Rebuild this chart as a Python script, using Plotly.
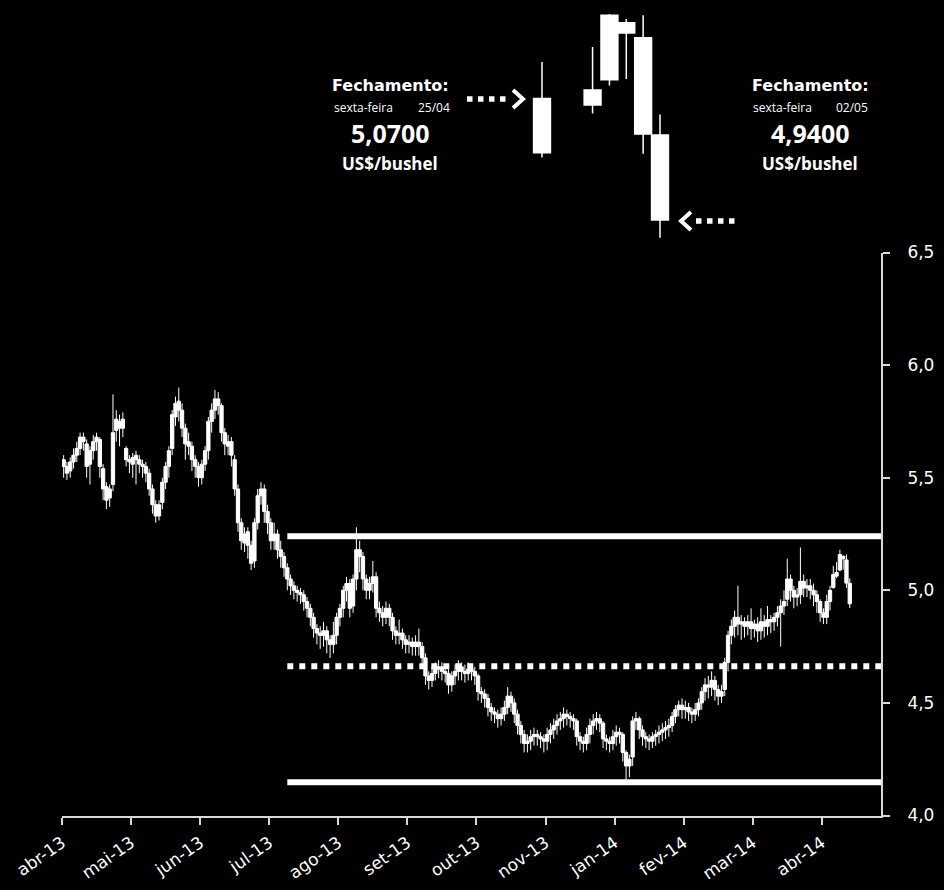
import plotly.graph_objects as go

W, H = 944, 890

# ---------------- data ----------------
month_labels = ["abr-13", "mai-13", "jun-13", "jul-13", "ago-13", "set-13",
                "out-13", "nov-13", "jan-14", "fev-14", "mar-14", "abr-14"]
label_every = 21          # sessions between month labels
axis_slots = 249          # category slots on the x axis

opens = [
    5.58, 5.55, 5.53, 5.57, 5.60, 5.63, 5.68, 5.65, 5.56, 5.62,
    5.66, 5.67, 5.54, 5.46, 5.41, 5.47, 5.71, 5.75, 5.72, 5.63,
    5.58, 5.56, 5.60, 5.58, 5.56, 5.55, 5.52, 5.45, 5.38, 5.33,
    5.39, 5.48, 5.55, 5.63, 5.77, 5.84, 5.80, 5.72, 5.66, 5.64,
    5.58, 5.55, 5.50, 5.56, 5.62, 5.75, 5.80, 5.85, 5.82, 5.70,
    5.64, 5.66, 5.58, 5.45, 5.30, 5.21, 5.26, 5.20, 5.13, 5.30,
    5.42, 5.45, 5.35, 5.30, 5.22, 5.25, 5.18, 5.15, 5.10, 5.05,
    5.02, 5.00, 4.99, 4.98, 4.95, 4.92, 4.88, 4.83, 4.81, 4.80,
    4.82, 4.78, 4.76, 4.80, 4.88, 4.92, 5.00, 5.03, 4.93, 5.05,
    5.18, 5.15, 5.05, 5.00, 5.03, 5.06, 4.92, 4.90, 4.88, 4.92,
    4.88, 4.82, 4.80, 4.81, 4.78, 4.76, 4.77, 4.75, 4.77, 4.75,
    4.70, 4.62, 4.60, 4.63, 4.65, 4.66, 4.64, 4.63, 4.58, 4.62,
    4.64, 4.66, 4.64, 4.63, 4.65, 4.64, 4.62, 4.55, 4.54, 4.52,
    4.48, 4.46, 4.45, 4.43, 4.45, 4.48, 4.53, 4.50, 4.45, 4.40,
    4.36, 4.32, 4.33, 4.35, 4.36, 4.35, 4.34, 4.33, 4.36, 4.38,
    4.40, 4.42, 4.43, 4.45, 4.44, 4.43, 4.42, 4.35, 4.33, 4.32,
    4.36, 4.40, 4.42, 4.43, 4.41, 4.34, 4.33, 4.32, 4.35, 4.37,
    4.36, 4.28, 4.22, 4.26, 4.42, 4.43, 4.38, 4.35, 4.34, 4.33,
    4.35, 4.36, 4.37, 4.38, 4.39, 4.40, 4.44, 4.47, 4.49, 4.47,
    4.48, 4.46, 4.45, 4.47, 4.50, 4.55, 4.58, 4.57, 4.60, 4.56,
    4.53, 4.56, 4.68, 4.80, 4.84, 4.88, 4.85, 4.86, 4.84, 4.86,
    4.83, 4.85, 4.82, 4.86, 4.84, 4.87, 4.86, 4.88, 4.90, 4.93,
    4.96, 5.05, 5.00, 4.97, 4.98, 5.04, 5.01, 5.02, 5.00, 4.98,
    4.95, 4.90, 4.88, 4.95, 5.012, 5.063, 5.090, 5.151, 5.135, 5.031,
]
highs = [
    5.60, 5.57, 5.59, 5.63, 5.66, 5.70, 5.70, 5.67, 5.64, 5.69,
    5.70, 5.68, 5.56, 5.48, 5.47, 5.87, 5.80, 5.78, 5.79, 5.64,
    5.60, 5.61, 5.62, 5.60, 5.58, 5.57, 5.54, 5.47, 5.40, 5.40,
    5.50, 5.57, 5.64, 5.80, 5.86, 5.90, 5.83, 5.74, 5.70, 5.66,
    5.60, 5.57, 5.58, 5.64, 5.77, 5.83, 5.89, 5.88, 5.83, 5.72,
    5.69, 5.68, 5.60, 5.47, 5.32, 5.28, 5.28, 5.22, 5.32, 5.45,
    5.48, 5.47, 5.38, 5.32, 5.30, 5.27, 5.22, 5.17, 5.12, 5.07,
    5.04, 5.02, 5.01, 5.00, 4.97, 4.94, 4.90, 4.85, 4.84, 4.86,
    4.84, 4.80, 4.86, 4.90, 4.94, 5.02, 5.06, 5.05, 5.07, 5.28,
    5.22, 5.17, 5.07, 5.06, 5.13, 5.08, 4.95, 4.93, 4.95, 4.94,
    4.90, 4.84, 4.87, 4.83, 4.80, 4.80, 4.79, 4.80, 4.83, 4.77,
    4.72, 4.64, 4.66, 4.68, 4.69, 4.68, 4.67, 4.65, 4.64, 4.67,
    4.69, 4.68, 4.67, 4.68, 4.67, 4.66, 4.63, 4.57, 4.56, 4.54,
    4.50, 4.48, 4.47, 4.48, 4.51, 4.57, 4.55, 4.52, 4.47, 4.42,
    4.38, 4.36, 4.38, 4.39, 4.38, 4.37, 4.36, 4.39, 4.41, 4.43,
    4.45, 4.46, 4.48, 4.47, 4.46, 4.45, 4.43, 4.37, 4.35, 4.39,
    4.43, 4.45, 4.46, 4.45, 4.42, 4.36, 4.35, 4.38, 4.40, 4.39,
    4.37, 4.29, 4.27, 4.44, 4.46, 4.44, 4.40, 4.37, 4.36, 4.37,
    4.38, 4.40, 4.41, 4.42, 4.43, 4.46, 4.49, 4.51, 4.52, 4.51,
    4.50, 4.48, 4.50, 4.52, 4.57, 4.61, 4.62, 4.64, 4.62, 4.58,
    4.58, 4.70, 4.82, 4.87, 4.91, 5.02, 4.89, 4.88, 4.89, 4.92,
    4.87, 4.88, 4.92, 4.89, 4.93, 4.89, 4.90, 4.93, 4.96, 5.00,
    5.14, 5.07, 5.02, 5.01, 5.19, 5.07, 5.05, 5.05, 5.03, 5.00,
    4.96, 4.92, 4.98, 5.02, 5.109, 5.125, 5.180, 5.155, 5.159, 5.053,
]
lows = [
    5.50, 5.49, 5.50, 5.54, 5.57, 5.60, 5.62, 5.50, 5.47, 5.58,
    5.62, 5.50, 5.40, 5.36, 5.37, 5.44, 5.66, 5.64, 5.68, 5.55,
    5.52, 5.50, 5.47, 5.52, 5.50, 5.48, 5.42, 5.34, 5.30, 5.31,
    5.36, 5.45, 5.50, 5.60, 5.73, 5.75, 5.68, 5.58, 5.60, 5.53,
    5.50, 5.46, 5.47, 5.53, 5.58, 5.70, 5.76, 5.78, 5.66, 5.60,
    5.60, 5.55, 5.42, 5.26, 5.18, 5.17, 5.14, 5.09, 5.10, 5.27,
    5.38, 5.30, 5.25, 5.18, 5.18, 5.14, 5.10, 5.06, 5.00, 4.98,
    4.96, 4.95, 4.94, 4.91, 4.88, 4.84, 4.79, 4.76, 4.74, 4.75,
    4.72, 4.70, 4.72, 4.76, 4.84, 4.88, 4.95, 4.88, 4.90, 5.00,
    5.08, 5.00, 4.96, 4.96, 4.99, 4.88, 4.86, 4.84, 4.85, 4.84,
    4.78, 4.76, 4.76, 4.74, 4.72, 4.72, 4.71, 4.71, 4.71, 4.66,
    4.58, 4.56, 4.57, 4.60, 4.61, 4.60, 4.59, 4.54, 4.55, 4.58,
    4.60, 4.60, 4.59, 4.60, 4.60, 4.58, 4.51, 4.50, 4.48, 4.44,
    4.42, 4.41, 4.39, 4.40, 4.42, 4.45, 4.46, 4.41, 4.36, 4.32,
    4.28, 4.28, 4.29, 4.31, 4.31, 4.30, 4.28, 4.29, 4.32, 4.34,
    4.36, 4.38, 4.39, 4.40, 4.39, 4.38, 4.31, 4.29, 4.28, 4.29,
    4.32, 4.36, 4.38, 4.37, 4.30, 4.29, 4.28, 4.29, 4.31, 4.32,
    4.24, 4.16, 4.17, 4.22, 4.38, 4.34, 4.31, 4.30, 4.29, 4.30,
    4.31, 4.32, 4.33, 4.34, 4.35, 4.37, 4.41, 4.44, 4.43, 4.43,
    4.42, 4.41, 4.42, 4.44, 4.47, 4.51, 4.52, 4.53, 4.51, 4.49,
    4.50, 4.53, 4.64, 4.76, 4.79, 4.80, 4.78, 4.79, 4.80, 4.78,
    4.79, 4.77, 4.78, 4.79, 4.80, 4.81, 4.82, 4.84, 4.75, 4.89,
    4.93, 4.95, 4.92, 4.93, 4.94, 4.97, 4.97, 4.96, 4.93, 4.90,
    4.86, 4.85, 4.85, 4.91, 5.007, 5.054, 5.084, 5.091, 5.011, 4.921,
]
closes = [
    5.55, 5.52, 5.57, 5.60, 5.63, 5.68, 5.66, 5.55, 5.62, 5.66,
    5.68, 5.55, 5.45, 5.40, 5.45, 5.70, 5.76, 5.72, 5.76, 5.58,
    5.57, 5.59, 5.58, 5.56, 5.55, 5.52, 5.45, 5.38, 5.33, 5.38,
    5.48, 5.55, 5.62, 5.78, 5.83, 5.80, 5.72, 5.65, 5.64, 5.58,
    5.55, 5.50, 5.56, 5.62, 5.75, 5.80, 5.85, 5.82, 5.70, 5.65,
    5.66, 5.60, 5.45, 5.30, 5.22, 5.25, 5.20, 5.12, 5.30, 5.42,
    5.45, 5.35, 5.30, 5.22, 5.25, 5.18, 5.15, 5.10, 5.05, 5.02,
    5.00, 4.99, 4.98, 4.95, 4.92, 4.88, 4.83, 4.81, 4.80, 4.82,
    4.78, 4.76, 4.80, 4.88, 4.92, 5.00, 5.03, 4.92, 5.05, 5.18,
    5.15, 5.05, 5.00, 5.03, 5.06, 4.92, 4.90, 4.88, 4.92, 4.88,
    4.82, 4.80, 4.81, 4.78, 4.76, 4.77, 4.75, 4.77, 4.75, 4.70,
    4.62, 4.60, 4.63, 4.65, 4.66, 4.64, 4.63, 4.58, 4.62, 4.64,
    4.66, 4.64, 4.63, 4.65, 4.64, 4.62, 4.55, 4.54, 4.52, 4.48,
    4.46, 4.45, 4.43, 4.45, 4.48, 4.53, 4.50, 4.45, 4.40, 4.36,
    4.32, 4.33, 4.35, 4.36, 4.35, 4.34, 4.33, 4.36, 4.38, 4.40,
    4.42, 4.43, 4.45, 4.44, 4.43, 4.42, 4.35, 4.33, 4.32, 4.36,
    4.40, 4.42, 4.43, 4.41, 4.34, 4.33, 4.32, 4.35, 4.37, 4.36,
    4.28, 4.22, 4.25, 4.42, 4.43, 4.38, 4.35, 4.34, 4.33, 4.35,
    4.36, 4.37, 4.38, 4.39, 4.40, 4.44, 4.47, 4.49, 4.47, 4.48,
    4.46, 4.45, 4.47, 4.50, 4.55, 4.58, 4.57, 4.60, 4.56, 4.53,
    4.55, 4.68, 4.80, 4.84, 4.88, 4.85, 4.86, 4.84, 4.86, 4.83,
    4.85, 4.82, 4.86, 4.84, 4.87, 4.86, 4.88, 4.90, 4.93, 4.95,
    5.05, 5.00, 4.97, 4.98, 5.04, 5.01, 5.02, 5.00, 4.98, 4.95,
    4.90, 4.88, 4.95, 5.00, 5.070, 5.079, 5.159, 5.140, 5.032, 4.940,
]

# last six sessions, shown enlarged in the inset
inset_dates = ["2014-04-25", "2014-04-28", "2014-04-29",
               "2014-04-30", "2014-05-01", "2014-05-02"]

# reference levels (solid, dotted, solid) and the session where they start
ref_levels = [5.24, 4.663, 4.148]
ref_dash = ["solid", "dot", "solid"]
ref_start_session = 68

close_notes = [
    {"day": "sexta-feira", "date": "25/04", "value": "5,0700"},
    {"day": "sexta-feira", "date": "02/05", "value": "4,9400"},
]

# ---------------- figure ----------------
def px(x):
    return x / W


def py(y):
    return 1 - y / H


sessions = list(range(len(closes)))
n_in = len(inset_dates)

fig = go.Figure()

white = "#ffffff"
fig.add_trace(go.Candlestick(
    x=sessions, open=opens, high=highs, low=lows, close=closes,
    increasing=dict(line=dict(color=white, width=1), fillcolor=white),
    decreasing=dict(line=dict(color=white, width=1), fillcolor=white),
    whiskerwidth=0, hoverinfo="skip", showlegend=False,
    xaxis="x", yaxis="y",
))

x_end = axis_slots - 0.5
for lvl, dsh in zip(ref_levels, ref_dash):
    fig.add_trace(go.Scatter(
        x=[ref_start_session, x_end], y=[lvl, lvl], mode="lines",
        line=dict(color=white, width=6, dash=dsh),
        hoverinfo="skip", showlegend=False, xaxis="x", yaxis="y",
    ))

fig.add_trace(go.Candlestick(
    x=inset_dates, open=opens[-n_in:], high=highs[-n_in:],
    low=lows[-n_in:], close=closes[-n_in:],
    increasing=dict(line=dict(color=white, width=1.5), fillcolor=white),
    decreasing=dict(line=dict(color=white, width=1.5), fillcolor=white),
    whiskerwidth=0, hoverinfo="skip", showlegend=False,
    xaxis="x2", yaxis="y2",
))

tick_font = dict(family="DejaVu Sans", size=17, color=white)
xtick_font = dict(family="DejaVu Sans", size=17, color=white)
axis_col = "#d9d9d9"

fig.update_layout(
    template="none",
    width=W, height=H, autosize=False,
    margin=dict(l=0, r=0, t=0, b=0, pad=0, autoexpand=False),
    paper_bgcolor="black", plot_bgcolor="black",
    separators=",.",
    boxgap=0, boxgroupgap=0,
    showlegend=False,
    xaxis=dict(
        domain=[px(62), px(881)], anchor="y", automargin=False,
        range=[-0.5, x_end],
        tickmode="array",
        tickvals=[k * label_every - 0.5 for k in range(len(month_labels))],
        ticktext=month_labels,
        tickangle=-35,
        ticks="outside", ticklen=7, tickwidth=2, tickcolor=axis_col,
        showline=True, linecolor=axis_col, linewidth=2,
        showgrid=False, zeroline=False,
        tickfont=xtick_font, ticklabelstandoff=2,
        rangeslider=dict(visible=False),
    ),
    yaxis=dict(
        domain=[py(815.5), py(252.5)], anchor="x", side="right",
        automargin=False,
        range=[4.0, 6.5], tickvals=[4.0, 4.5, 5.0, 5.5, 6.0, 6.5],
        tickformat=".1f",
        ticks="outside", ticklen=7, tickwidth=2, tickcolor=axis_col,
        showline=True, linecolor=axis_col, linewidth=2,
        showgrid=False, zeroline=False,
        tickfont=tick_font, ticklabelstandoff=14,
    ),
    xaxis2=dict(
        domain=[px(520), px(690)], anchor="y2", type="date",
        automargin=False,
        range=["2014-04-23 16:40", "2014-05-03 18:43"],
        visible=False, showgrid=False,
        rangeslider=dict(visible=False),
    ),
    yaxis2=dict(
        domain=[py(245), py(14)], anchor="x2", automargin=False,
        range=[4.9133, 5.1604], visible=False, showgrid=False,
    ),
)

# annotation blocks
anns = []
blocks = [
    (close_notes[0], 390, 363, 434),
    (close_notes[1], 810, 782, 852),
]
for note, cx, dx, tx in blocks:
    anns.append(dict(text="Fechamento:", x=px(cx), y=py(85),
                     font=dict(family="DejaVu Sans", size=16, color=white, weight="bold")))
    anns.append(dict(text=note["day"], x=px(dx), y=py(108),
                     font=dict(family="Open Sans", size=12, color=white)))
    anns.append(dict(text=note["date"], x=px(tx), y=py(108),
                     font=dict(family="Open Sans", size=12, color=white)))
    anns.append(dict(text=note["value"], x=px(cx), y=py(133),
                     font=dict(family="Open Sans", size=25, color=white, weight="bold")))
    anns.append(dict(text="US$/bushel", x=px(cx), y=py(164),
                     font=dict(family="Open Sans", size=17, color=white, weight="bold")))
for a in anns:
    a.update(xref="paper", yref="paper", showarrow=False,
             xanchor="center", yanchor="middle", borderpad=0)
fig.update_layout(annotations=anns)

# dotted arrows pointing to the first and last inset candles
shapes = [
    dict(type="line", x0=px(467), x1=px(508), y0=py(99), y1=py(99),
         line=dict(color=white, width=5.5, dash="dot")),
    dict(type="path",
         path=f"M {px(513)} {py(90)} L {px(523)} {py(99)} L {px(513)} {py(108)}",
         line=dict(color=white, width=4)),
    dict(type="line", x0=px(696), x1=px(736), y0=py(221), y1=py(221),
         line=dict(color=white, width=5.5, dash="dot")),
    dict(type="path",
         path=f"M {px(691)} {py(212)} L {px(681)} {py(221)} L {px(691)} {py(230)}",
         line=dict(color=white, width=4)),
]
for s in shapes:
    s.update(xref="paper", yref="paper")
fig.update_layout(shapes=shapes)

fig.write_html("out.html")
